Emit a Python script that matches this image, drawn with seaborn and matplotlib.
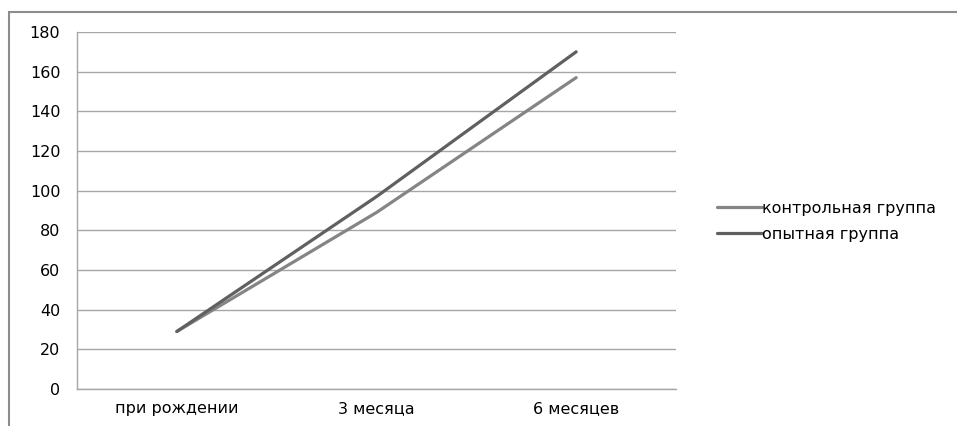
import pandas as pd
import seaborn as sns
import matplotlib.pyplot as plt
from matplotlib.patches import Rectangle

# данные
periods = ["при рождении", "3 месяца", "6 месяцев"]
control = [29, 89, 157]
experimental = [29, 97, 170]
series_names = ["контрольная группа", "опытная группа"]

df = pd.DataFrame({
    "period": periods * 2,
    "value": control + experimental,
    "group": [series_names[0]] * 3 + [series_names[1]] * 3,
})

sns.set_style("white")
plt.rcParams["font.family"] = ["DejaVu Sans"]
plt.rcParams["text.color"] = "black"
plt.rcParams["xtick.color"] = "black"
plt.rcParams["ytick.color"] = "black"

fig = plt.figure(figsize=(9.57, 4.26), dpi=100)
# рамка вокруг диаграммы
fig.patches.append(Rectangle((9 / 957, -0.1), 1.2, 1 - 12 / 426 + 0.1,
                             transform=fig.transFigure, fill=False,
                             edgecolor="#8c8c8c", linewidth=1.5))
ax = fig.add_axes([77 / 957, 1 - 389 / 426, 599 / 957, 357 / 426])

sns.lineplot(data=df, x="period", y="value", hue="group", sort=False,
             palette=["#858585", "#606060"], linewidth=2.3, ax=ax)

ax.set_ylim(0, 180)
ax.set_yticks(range(0, 181, 20))
ax.set_xlim(-0.5, 2.5)
ax.set_xticks([0, 1, 2])
ax.set_xticks([-0.5, 0.5, 1.5, 2.5], minor=True)
ax.tick_params(axis="x", which="major", length=0, pad=9, labelsize=11.5, labelcolor="black")
ax.tick_params(axis="x", which="minor", length=5, color="#a0a0a0", direction="out")
ax.tick_params(axis="y", length=5, color="#a0a0a0", direction="out", labelsize=11.5,
               pad=7, labelcolor="black")
ax.set_xlabel("")
ax.set_ylabel("")
ax.grid(axis="y", color="#a6a6a6", linewidth=1)
for s in ["top", "right"]:
    ax.spines[s].set_visible(False)
for s in ["left", "bottom"]:
    ax.spines[s].set_color("#a6a6a6")
    ax.spines[s].set_linewidth(1)

leg = ax.legend(loc="center left", bbox_to_anchor=(1.045, 0.47), frameon=False,
                fontsize=11.5, handlelength=2.8, handletextpad=0.0,
                labelspacing=0.7)
for t in leg.get_texts():
    t.set_color("black")

fig.savefig("out.png", dpi=100)
